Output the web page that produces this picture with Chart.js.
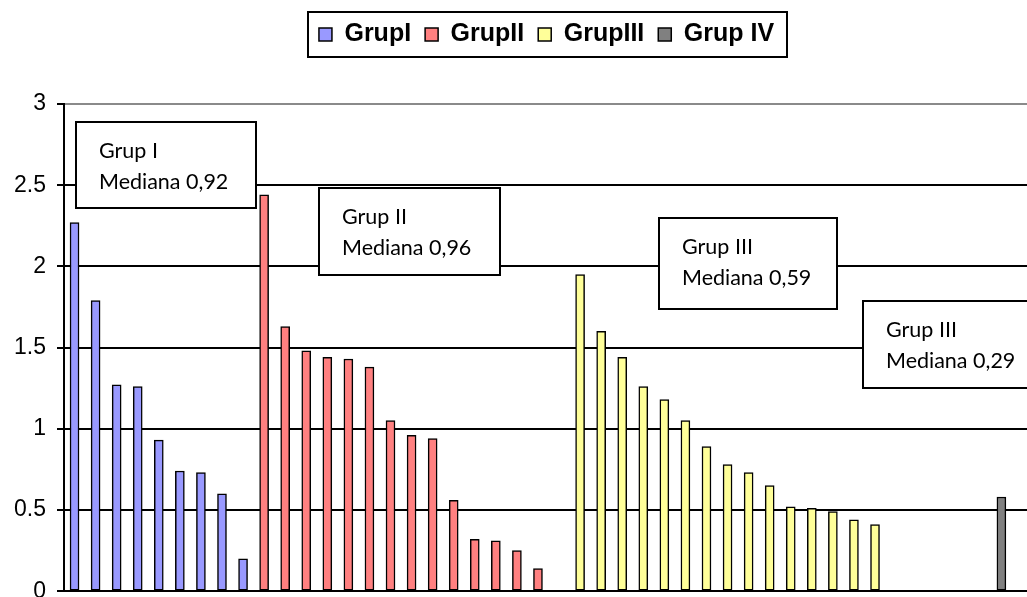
<!DOCTYPE html>
<html><head><meta charset="utf-8">
<script src="https://cdn.jsdelivr.net/npm/chart.js@4/dist/chart.umd.min.js"></script>
<style>
html,body{margin:0;padding:0;overflow:hidden;background:#fff;width:1027px;height:597px}
#wrap{position:absolute;left:0;top:0;width:1040px;height:616px}
</style>
</head><body><div id="wrap"><canvas id="c" width="1040" height="616"></canvas></div>
<script>
// ---- data ----
const seriesNames = ['GrupI', 'GrupII', 'GrupIII', 'Grup IV'];
const groupI   = [2.27, 1.79, 1.27, 1.26, 0.93, 0.74, 0.73, 0.60, 0.20];
const groupII  = [2.44, 1.63, 1.48, 1.44, 1.43, 1.38, 1.05, 0.96, 0.94, 0.56, 0.32, 0.31, 0.25, 0.14];
const groupIII = [1.95, 1.60, 1.44, 1.26, 1.18, 1.05, 0.89, 0.78, 0.73, 0.65, 0.52, 0.51, 0.49, 0.44, 0.41];
const groupIV  = [0.58];
const emptyCategoriesBefore = [0, 0, 1, 5];
const emptyCategoriesAfter = 1;
const yTickLabels = ['0', '0.5', '1', '1.5', '2', '2.5', '3'];
const noteTitles = ['Grup I', 'Grup II', 'Grup III', 'Grup III'];
const noteTexts  = ['Mediana 0,92', 'Mediana 0,96', 'Mediana 0,59', 'Mediana 0,29'];

// ---- build categories / datasets ----
const groups = [groupI, groupII, groupIII, groupIV];
const colors = ['#9999FF', '#FF8080', '#FFFF99', '#808080'];
const categories = [];
const slotOf = [];
groups.forEach((g, gi) => {
  for (let k = 0; k < emptyCategoriesBefore[gi]; k++) categories.push('');
  slotOf.push(categories.length);
  g.forEach(() => categories.push(''));
});
for (let k = 0; k < emptyCategoriesAfter; k++) categories.push('');

const datasets = groups.map((g, gi) => {
  const data = categories.map(() => null);
  g.forEach((v, k) => { data[slotOf[gi] + k] = v; });
  return {
    label: seriesNames[gi], data,
    backgroundColor: colors[gi], borderColor: '#000', borderWidth: 1.5,
    borderSkipped: false, grouped: false, barThickness: 9
  };
});

// note boxes in data space: [x from, x to] in category units, [y top, y bottom] in values
const noteBoxes = [
  [0.07, 8.61, 2.89, 2.36],
  [11.6, 20.19, 2.48, 1.95],
  [27.74, 36.19, 2.30, 1.74],
  [37.42, 46.2, 1.79, 1.25]
];

const notesPlugin = {
  id: 'notes',
  afterDatasetsDraw(chart) {
    const {ctx, scales: {x, y}} = chart;
    ctx.save();
    noteBoxes.forEach((b, i) => {
      const l = Math.round(x.getPixelForValue(b[0])), r = Math.round(x.getPixelForValue(b[1]));
      const t = Math.round(y.getPixelForValue(b[2])), bo = Math.round(y.getPixelForValue(b[3]));
      ctx.fillStyle = '#fff';
      ctx.fillRect(l, t, r - l, bo - t);
      ctx.lineWidth = 2; ctx.strokeStyle = '#000';
      ctx.strokeRect(l, t, r - l, bo - t);
      ctx.fillStyle = '#000';
      ctx.font = '21.5px Lato, "Open Sans", sans-serif';
      ctx.textBaseline = 'middle'; ctx.textAlign = 'left';
      ctx.fillText(noteTitles[i], l + 23, t + 29);
      ctx.fillText(noteTexts[i], l + 23, t + 60);
    });
    ctx.restore();
  }
};

const legendFramePlugin = {
  id: 'legendFrame',
  beforeLayout(chart) {
    const lg = chart.legend;
    if (lg && !lg._fixed) {
      const orig = Object.getPrototypeOf(lg).fit;
      lg.fit = function () { orig.call(this); this.height = 96; };
      lg._fixed = true;
    }
  },
  afterLayout(chart) {
    const lg = chart.legend;
    if (!lg) return;
    // legend in the reference is centred over the page, not over the (wider) plot
    const target = 546.5;
    const shift = target - (lg.left + lg.right) / 2;
    lg.left += shift; lg.right += shift;
  },
  afterDraw(chart) {
    const lg = chart.legend;
    if (!lg || !lg.legendHitBoxes || !lg.legendHitBoxes.length) return;
    const hb = lg.legendHitBoxes;
    const first = hb[0], last = hb[hb.length - 1];
    const cy = first.top + first.height / 2;
    const ctx = chart.ctx;
    ctx.save();
    ctx.lineWidth = 2; ctx.strokeStyle = '#000';
    const l = Math.round(first.left - 11), r = Math.round(last.left + last.width + 13);
    const t = Math.round(cy - 22.5);
    ctx.strokeRect(l, t, r - l, 45);
    ctx.restore();
  }
};

new Chart(document.getElementById('c'), {
  type: 'bar',
  data: { labels: categories, datasets },
  options: {
    responsive: false, animation: false,
    layout: { padding: { left: 0, right: 7, top: 8, bottom: 14 } },
    plugins: {
      legend: {
        position: 'top', align: 'center',
        labels: {
          color: '#000', boxWidth: 13, boxHeight: 13, padding: 14,
          font: { family: '"Liberation Sans", Arial, sans-serif', size: 25, weight: 'bold' }
        }
      },
      tooltip: { enabled: false }
    },
    scales: {
      x: {
        type: 'category', offset: true,
        grid: { display: false, drawTicks: false },
        ticks: { display: false },
        border: { display: true, color: '#000', width: 2 },
        afterFit(s) { s.height = 0; }
      },
      y: {
        min: 0, max: 3,
        ticks: {
          stepSize: 0.5, padding: 11, color: '#000',
          font: { family: '"Liberation Sans", Arial, sans-serif', size: 23 },
          callback: (v, i) => yTickLabels[i]
        },
        grid: {
          color: c => (c.tick && c.tick.value === 3) ? '#8a8a8a' : '#000',
          lineWidth: 2,
          tickColor: '#000', tickLength: 7, drawTicks: true
        },
        border: { display: true, color: '#000', width: 2 },
        afterFit(s) { s.width = 64; }
      }
    }
  },
  plugins: [notesPlugin, legendFramePlugin]
});
</script>
</body></html>
